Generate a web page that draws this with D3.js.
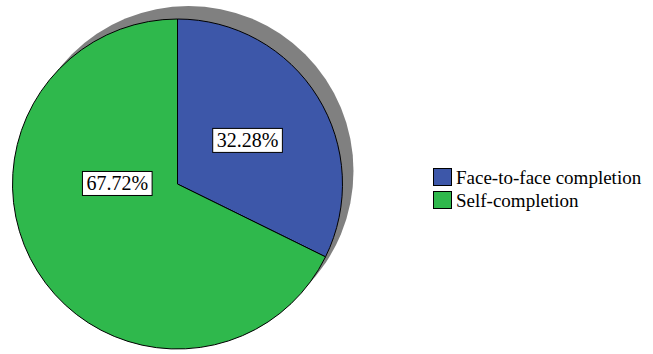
<!DOCTYPE html>
<html>
<head>
<meta charset="utf-8">
<script src="https://cdn.jsdelivr.net/npm/d3@7/dist/d3.min.js"></script>
<style>
  html, body { margin: 0; padding: 0; background: #fff; }
  svg { display: block; }
</style>
</head>
<body>
<svg id="chart" width="653" height="354"></svg>
<script>
// Survey completion mode shares (%)
const categories = ["Face-to-face completion", "Self-completion"];
const values = [32.28, 67.72];
const labels = ["32.28%", "67.72%"];
const colors = ["#3d57a9", "#2fb84c"];

const FONT = "Liberation Serif";

const svg = d3.select("#chart");
const cx = 177.5, cy = 184, radius = 165;
const shadowDx = 11, shadowDy = -13;

const pie = d3.pie().sort(null).value(d => d)(values);
const arc = d3.arc().innerRadius(0).outerRadius(radius);

// drop shadow behind the pie
svg.append("circle")
  .attr("cx", cx + shadowDx)
  .attr("cy", cy + shadowDy)
  .attr("r", radius)
  .attr("fill", "#808080");

const g = svg.append("g").attr("transform", `translate(${cx},${cy})`);

g.selectAll("path.slice")
  .data(pie)
  .join("path")
  .attr("class", "slice")
  .attr("d", arc)
  .attr("fill", (d, i) => colors[i])
  .attr("stroke", "#000")
  .attr("stroke-width", 1);

// value labels: polar placement (angle in degrees clockwise from top, distance as fraction of radius)
const labelAngles = [null, 270.5];
const labelDist = [0.5, 0.365];
const labelPos = pie.map((d, i) => {
  const a = labelAngles[i] == null ? (d.startAngle + d.endAngle) / 2 : labelAngles[i] * Math.PI / 180;
  const r = radius * labelDist[i];
  return [r * Math.sin(a), -r * Math.cos(a)];
});

const lab = g.selectAll("g.lab")
  .data(pie)
  .join("g")
  .attr("class", "lab")
  .attr("transform", (d, i) => `translate(${labelPos[i][0]},${labelPos[i][1]})`);

lab.append("text")
  .attr("text-anchor", "middle")
  .attr("dy", "0.35em")
  .attr("font-family", FONT)
  .attr("font-size", 20)
  .attr("fill", "#000")
  .text((d, i) => labels[i]);

lab.each(function () {
  const t = d3.select(this).select("text");
  const bb = t.node().getBBox();
  d3.select(this).insert("rect", "text")
    .attr("x", bb.x - 4)
    .attr("y", bb.y - 1)
    .attr("width", bb.width + 8)
    .attr("height", bb.height + 2)
    .attr("fill", "#fff")
    .attr("stroke", "#000")
    .attr("stroke-width", 1);
});

// legend
const legend = svg.append("g").attr("transform", "translate(433.5,168.5)");
const rowH = 23;
const items = legend.selectAll("g")
  .data(categories)
  .join("g")
  .attr("transform", (d, i) => `translate(0,${i * rowH})`);

items.append("rect")
  .attr("width", 18)
  .attr("height", 17)
  .attr("fill", (d, i) => colors[i])
  .attr("stroke", "#000")
  .attr("stroke-width", 1);

items.append("text")
  .attr("x", 22.5)
  .attr("y", 15)
  .attr("font-family", FONT)
  .attr("font-size", 19)
  .attr("fill", "#000")
  .text(d => d);
</script>
</body>
</html>
